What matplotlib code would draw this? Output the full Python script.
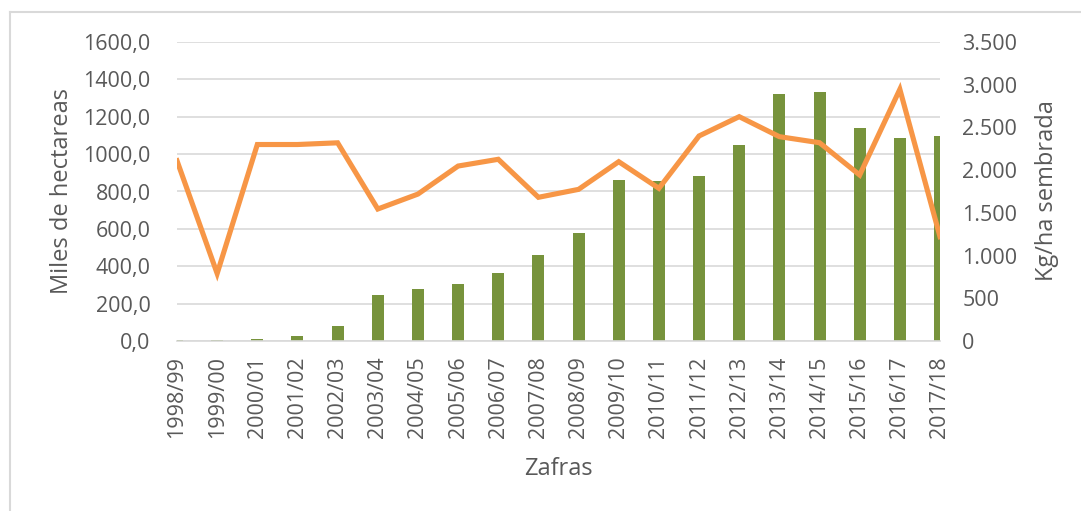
import numpy as np
import matplotlib
matplotlib.use("Agg")
import matplotlib.pyplot as plt
from matplotlib.lines import Line2D
from matplotlib.ticker import FuncFormatter

zafras = ["1998/99", "1999/00", "2000/01", "2001/02", "2002/03", "2003/04",
          "2004/05", "2005/06", "2006/07", "2007/08", "2008/09", "2009/10",
          "2010/11", "2011/12", "2012/13", "2013/14", "2014/15", "2015/16",
          "2016/17", "2017/18"]
hectareas = [5, 6, 10, 28, 80, 246, 277, 307, 364, 460, 578, 861,
             858, 883, 1049, 1320, 1334, 1140, 1088, 1097]
rendimiento = [2110, 790, 2300, 2300, 2320, 1545, 1720, 2048, 2127, 1682,
               1775, 2099, 1787, 2400, 2626, 2392, 2321, 1943, 2946, 1221]

text_col = "#595959"
grid_col = "#D9D9D9"
plt.rcParams['font.family'] = ['Open Sans', 'DejaVu Sans']

fig = plt.figure(figsize=(10.81, 5.11), dpi=100)
ax1 = fig.add_axes([177 / 1081, 1 - 341 / 511, (940 - 177) / 1081, (341 - 42) / 511])
ax2 = ax1.twinx()

x = np.arange(len(zafras))
ax1.bar(x, hectareas, width=0.3, color="#77933C", zorder=2)
ax2.plot(x, rendimiento, color="#F79646", lw=3.7, solid_joinstyle="miter", zorder=3)

ax1.set_xlim(0, len(zafras) - 1)
ax1.set_ylim(0, 1600)
ax1.set_yticks(np.arange(0, 1601, 200))
ax2.set_ylim(0, 3500)
ax2.set_yticks(np.arange(0, 3501, 500))

ax1.yaxis.set_major_formatter(FuncFormatter(lambda v, p: f"{v:.1f}".replace(".", ",")))
ax2.yaxis.set_major_formatter(FuncFormatter(lambda v, p: f"{int(v):,}".replace(",", ".")))

ax1.set_xticks(x)
ax1.set_xticklabels(zafras, rotation=90)
ax1.grid(axis="y", color=grid_col, lw=1.2, zorder=0)
ax1.set_axisbelow(True)

for ax in (ax1, ax2):
    for s in ax.spines.values():
        s.set_visible(False)
ax1.spines["bottom"].set_visible(True)
ax1.spines["bottom"].set_color(grid_col)
ax1.spines["bottom"].set_linewidth(1.2)

ax1.tick_params(axis="y", length=0, pad=19, labelsize=15.5, labelcolor=text_col)
ax1.tick_params(axis="x", length=0, pad=11, labelsize=15.5, labelcolor=text_col)
ax2.tick_params(axis="y", length=0, pad=16, labelsize=15.5, labelcolor=text_col)

fig.text(62 / 1081, 1 - 191 / 511, "Miles de hectareas", rotation=90, ha="center",
         va="center", fontsize=17, color=text_col)
fig.text(1047 / 1081, 1 - 191 / 511, "Kg/ha sembrada", rotation=90, ha="center",
         va="center", fontsize=17, color=text_col)
fig.text(558 / 1081, 1 - 469 / 511, "Zafras", ha="center", va="center",
         fontsize=17, color=text_col)

# chart frame
fig.add_artist(Line2D([10 / 1081, 10 / 1081], [0, 1 - 12 / 511], transform=fig.transFigure,
                      color=grid_col, lw=1.5))
fig.add_artist(Line2D([10 / 1081, 1], [1 - 12 / 511, 1 - 12 / 511], transform=fig.transFigure,
                      color=grid_col, lw=1.5))

fig.savefig("out.png", dpi=100)
